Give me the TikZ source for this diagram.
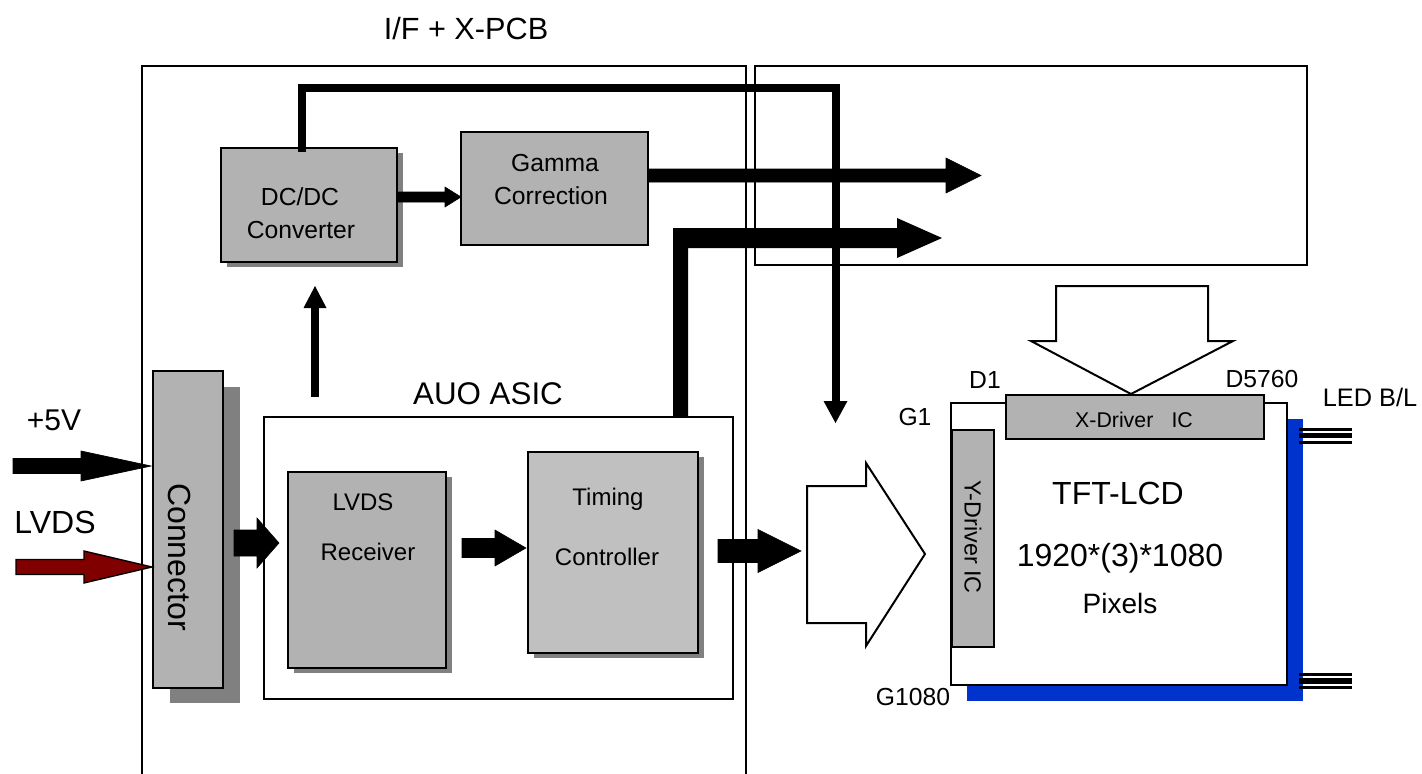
\documentclass[tikz,border=0pt]{standalone}
\usepackage{fontspec}
\setmainfont{Liberation Sans}
\usetikzlibrary{calc,fit}
\definecolor{boxgray}{HTML}{B2B2B2}
\definecolor{tcgray}{HTML}{C0C0C0}
\definecolor{shgray}{HTML}{808080}
\definecolor{lvdsred}{HTML}{800000}
\definecolor{ledblue}{HTML}{0033CC}
\newcommand\myfs[1]{\fontsize{#1}{#1}\selectfont}
% horizontal block arrow: style, start, tip, half shaft, head length, half head
\newcommand\harr[6]{\filldraw[#1] ($(#2)+(0,-#4)$) -- ($(#3)+(-#5,-#4)$) -- ($(#3)+(-#5,-#6)$) -- (#3) -- ($(#3)+(-#5,#6)$) -- ($(#3)+(-#5,#4)$) -- ($(#2)+(0,#4)$) -- cycle;}
% vertical triangle tip: style, tip, signed length to base, half width
\newcommand\vtip[4]{\fill[#1] ($(#2)+(-#4,#3)$) -- (#2) -- ($(#2)+(#4,#3)$) -- cycle;}
\begin{document}
\begin{tikzpicture}[x=0.75pt,y=-0.75pt,
 box/.style={draw,line width=1.5pt,fill=boxgray,inner sep=0pt},
 frame/.style={draw,line width=1pt,inner sep=0pt},
 lbl/.style={anchor=base,inner sep=0pt},
 line join=miter]
\useasboundingbox (0,0) rectangle (1422,774);
\fill[white] (0,0) rectangle (1422,774);

% frames
\draw[line width=1pt] (142,790) -- (142,66) -- (746,66) -- (746,790);
\node[lbl,font=\myfs{23}] (ifx) at (466,40) {I/F + X-PCB};
\node[frame,fit={(755,66)(1307,265)}] (xpcb) {};

% DC/DC and Gamma
\fill[shgray] (227,153) rectangle (403,267);
\node[box,fit={(221,148)(397,262)}] (dcdc) {};
\node[lbl,font=\myfs{18.5}] (dctxt1) at (300,205.8) {DC/DC};
\node[lbl,font=\myfs{18.5}] (dctxt2) at (301,238.8) {Converter};
\node[box,fit={(461,132)(648,245)}] (gamma) {};
\node[lbl,font=\myfs{18.5}] (gmtxt1) at (555,171.8) {Gamma};
\node[lbl,font=\myfs{18.5}] (gmtxt2) at (551,204.8) {Correction};

% connector
\fill[shgray] (170,387) rectangle (240,703);
\node[box,fit={(153,371)(223,688)}] (conn) {};
\node[rotate=-90,font=\myfs{24},inner sep=0pt] (conntxt) at (180,557) {Connector};

% input labels
\node[lbl,font=\myfs{22.5}] (v5txt) at (54,430.7) {+5V};
\node[lbl,font=\myfs{24}] (lvdstxt) at (55,533.4) {LVDS};

% ASIC
\node[draw,line width=1.5pt,fill=white,inner sep=0pt,fit={(264,417)(733,699)}] (asic) {};
\node[lbl,font=\myfs{23.5}] (asictxt) at (488,404.2) {AUO ASIC};
\fill[shgray] (294,477) rectangle (452,673);
\node[box,fit={(288,472)(446,668)}] (lvds) {};
\node[lbl,font=\myfs{18}] (lvtxt1) at (363,510.6) {LVDS};
\node[lbl,font=\myfs{18}] (lvtxt2) at (368,560.6) {Receiver};
\fill[shgray] (534,457) rectangle (704,658);
\node[box,fill=tcgray,fit={(528,452)(698,653)}] (tcon) {};
\node[lbl,font=\myfs{18}] (tctxt1) at (608,505) {Timing};
\node[lbl,font=\myfs{18}] (tctxt2) at (607,565.6) {Controller};

% LCD panel
\fill[ledblue] (967,419) rectangle (1303,701);
\node[draw,line width=1.5pt,fill=white,inner sep=0pt,fit={(951,403)(1287,685)}] (lcd) {};
\node[box,fit={(1006,395)(1264,439)}] (xdrv) {};
\node[lbl,font=\myfs{16}] (xdtxt) at (1134,427.6) {X-Driver\hspace{0.85em}IC};
\node[box,fit={(952,430)(994,647)}] (ydrv) {};
\node[rotate=-90,font=\myfs{17.5},inner sep=0pt] (ydtxt) at (973,537) {Y-Driver IC};
\node[lbl,font=\myfs{24}] (tft) at (1118,504.5) {TFT-LCD};
\node[lbl,font=\myfs{24}] (res) at (1120,566.5) {1920*(3)*1080};
\node[lbl,font=\myfs{21}] (pix) at (1120,613) {Pixels};
\node[lbl,font=\myfs{18.5}] (d1) at (985,388.8) {D1};
\node[lbl,font=\myfs{18.5}] (d5760) at (1262,387.8) {D5760};
\node[lbl,font=\myfs{18.5}] (g1) at (915,425.8) {G1};
\node[lbl,font=\myfs{18.5}] (g1080) at (913,705.8) {G1080};
\node[lbl,font=\myfs{19}] (led) at (1370,406) {LED B/L};

% LED wires
\draw[line width=2.25pt] (1299,429) -- (1352,429);
\draw[line width=4.1pt] (1299,435.5) -- (1352,435.5);
\draw[line width=2.25pt] (1299,442.5) -- (1352,442.5);
\draw[line width=2.25pt] (1299,674) -- (1352,674);
\draw[line width=4.1pt] (1299,681) -- (1352,681);
\draw[line width=2.25pt] (1299,687.5) -- (1352,687.5);

% hollow arrows
\draw[line width=1.5pt,fill=white] (807,486) -- (866,486) -- (866,463) -- (925,554) -- (866,646) -- (866,623) -- (807,623) -- cycle;
\draw[line width=1.5pt,fill=white] (1056,286) -- (1208,286) -- (1208,341) -- (1233,341) -- (1131,394) -- (1031,341) -- (1056,341) -- cycle;

% input arrows
\coordinate (p5s) at (13,466);  \coordinate (p5e) at (151,466);
\harr{fill=black,draw=black,line width=0.5pt}{p5s}{p5e}{7.5}{70}{15}
\coordinate (lvs) at (16,567);  \coordinate (lve) at (152,567);
\harr{fill=lvdsred,draw=black,line width=1pt}{lvs}{lve}{7.5}{68}{16}

% internal block arrows
\coordinate (a1s) at (234,543); \coordinate (a1e) at (279,543);
\harr{fill=black}{a1s}{a1e}{13}{22}{25}
\coordinate (a2s) at (462,548); \coordinate (a2e) at (526,548);
\harr{fill=black}{a2s}{a2e}{9.5}{31}{18}
\coordinate (a3s) at (718,551); \coordinate (a3e) at (801,551);
\harr{fill=black}{a3s}{a3e}{11.5}{43}{21.5}
\coordinate (a4s) at (397,197); \coordinate (a4e) at (461,197);
\harr{fill=black}{a4s}{a4e}{5}{16}{10}
\coordinate (a5s) at (648,175.5); \coordinate (a5e) at (981,175.5);
\harr{fill=black}{a5s}{a5e}{6.5}{35}{17.5}

% ASIC output L-shaped bus
\fill (673,417) -- (673,228) -- (897,228) -- (897,218) -- (942,238) -- (897,258) -- (897,248) -- (688,248) -- (688,417) -- cycle;

% up arrow to DC/DC
\draw[line width=6pt] (315,397) -- (315,306);
\vtip{black}{315,286}{22}{11.5}

% DC/DC power line to panel
\draw[line width=6pt] (302,152) -- (302,88) -- (835.5,88) -- (835.5,402);
\vtip{black}{835.5,423}{-22}{12}
\end{tikzpicture}
\end{document}
